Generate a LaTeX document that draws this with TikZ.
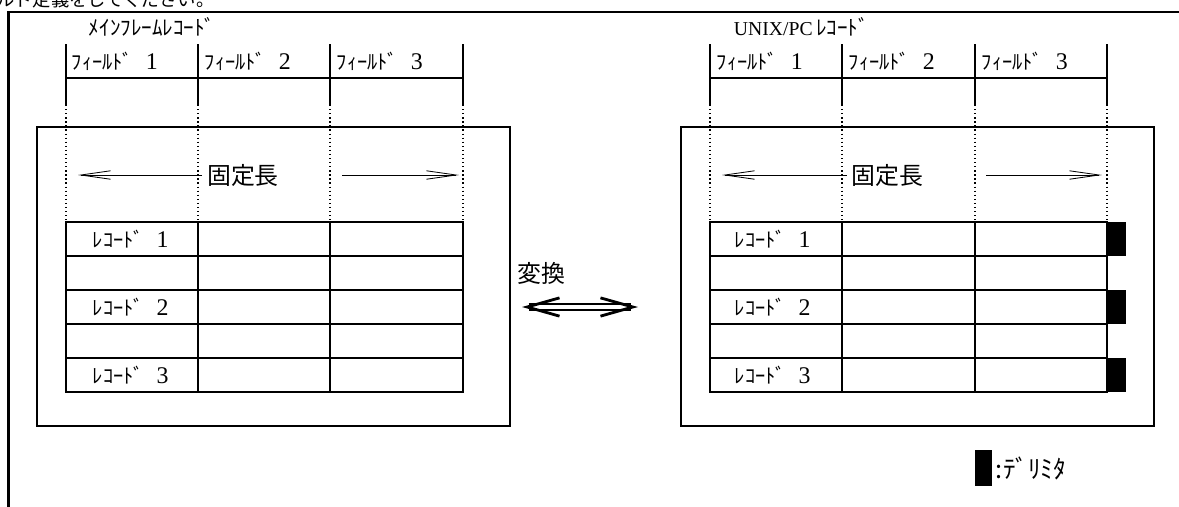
\documentclass[tikz,border=0pt]{standalone}
\usepackage{fontspec}
\setmainfont{Liberation Serif}
\newfontfamily\jp{Noto Sans CJK JP}
\usetikzlibrary{arrows.meta}

\tikzset{
  cell/.style={line width=1.5pt},
  guide/.style={line width=0.9pt, dotted},
  label/.style={anchor=west},
  bigtext/.style={font=\jp\fontsize{17}{20}\selectfont},
  lenarrow/.style={line width=0.6pt, -{Straight Barb[length=21pt,width=6pt]}},
  convarrow/.style={double, double distance=3.2pt, line width=0.9pt,
    {Straight Barb[length=23pt,width=13pt,line width=2pt]}-{Straight Barb[length=23pt,width=13pt,line width=2pt]}}
}

\begin{document}
\begin{tikzpicture}[x=0.025cm, y=-0.025cm]
% Kana label followed by a number
\def\kana#1#2{{\jp\fontsize{14.5}{16}\selectfont #1}\hspace{9pt}{\fontsize{17}{18}\selectfont #2}}

\useasboundingbox (0,0) rectangle (1179,507);
\clip (0,0) rectangle (1179,507);

% Text cut at the top edge
\node[anchor=base west, inner sep=0pt, font=\jp\fontsize{13}{15}\selectfont] (note) at (-4,6.5) {ルド定義をしてください。};

% Outer frame
\draw[cell] (1179,12) -- (8.5,12) -- (8.5,507);

% Mainframe record
\node[label, font=\jp\fontsize{15}{17}\selectfont] (mftitle) at (84,27) {ﾒｲﾝﾌﾚｰﾑﾚｺｰﾄﾞ};
\draw[cell] (66,44) -- (66,105);
\draw[cell] (198,44) -- (198,105);
\draw[cell] (330,44) -- (330,105);
\draw[cell] (463,44) -- (463,105);
\draw[cell] (66,78) -- (463,78);
\node[label] (mfhead1) at (67,61) {\kana{ﾌｨｰﾙﾄﾞ}{1}};
\node[label] (mfhead2) at (200,61) {\kana{ﾌｨｰﾙﾄﾞ}{2}};
\node[label] (mfhead3) at (332,61) {\kana{ﾌｨｰﾙﾄﾞ}{3}};
\draw[guide] (66,105) -- (66,222);
\draw[guide] (198,105) -- (198,222);
\draw[guide] (330,105) -- (330,222);
\draw[guide] (463,105) -- (463,222);
\draw[cell] (37,127) rectangle (510,426);

% Fixed length
\node[bigtext] (mffix) at (243,175) {固定長};
\coordinate (mfleft) at (78,175);
\coordinate (mfstart) at (342,175);
\coordinate (mfright) at (459,175);
\draw[lenarrow] (mffix.west) -- (mfleft);
\draw[lenarrow] (mfstart) -- (mfright);

% Records
\draw[cell] (66,222) rectangle (463,392);
\draw[cell] (66,256) -- (463,256);
\draw[cell] (66,290) -- (463,290);
\draw[cell] (66,324) -- (463,324);
\draw[cell] (66,358) -- (463,358);
\draw[cell] (198,222) -- (198,392);
\draw[cell] (330,222) -- (330,392);
\node[label] (mfrec1) at (88,239) {\kana{ﾚｺｰﾄﾞ}{1}};
\node[label] (mfrec2) at (88,307) {\kana{ﾚｺｰﾄﾞ}{2}};
\node[label] (mfrec3) at (88,375) {\kana{ﾚｺｰﾄﾞ}{3}};

% Conversion
\node[bigtext] (conv) at (541,273) {変換};
\coordinate (convleft) at (522,307);
\coordinate (convright) at (638,307);
\draw[convarrow] (convleft) -- (convright);

% UNIX/PC record
\node[label] (pctitle) at (729,27) {{\fontsize{14}{16}\selectfont UNIX/PC} {\jp\fontsize{15}{17}\selectfont ﾚｺｰﾄﾞ}};
\draw[cell] (710,44) -- (710,105);
\draw[cell] (842,44) -- (842,105);
\draw[cell] (975,44) -- (975,105);
\draw[cell] (1107,44) -- (1107,105);
\draw[cell] (710,78) -- (1107,78);
\node[label] (pchead1) at (712,61) {\kana{ﾌｨｰﾙﾄﾞ}{1}};
\node[label] (pchead2) at (844,61) {\kana{ﾌｨｰﾙﾄﾞ}{2}};
\node[label] (pchead3) at (977,61) {\kana{ﾌｨｰﾙﾄﾞ}{3}};
\draw[guide] (710,105) -- (710,222);
\draw[guide] (842,105) -- (842,222);
\draw[guide] (975,105) -- (975,222);
\draw[guide] (1107,105) -- (1107,222);
\draw[cell] (681,127) rectangle (1154,426);

% Fixed length
\node[bigtext] (pcfix) at (887.5,175) {固定長};
\coordinate (pcleft) at (722,175);
\coordinate (pcstart) at (986,175);
\coordinate (pcright) at (1102,175);
\draw[lenarrow] (pcfix.west) -- (pcleft);
\draw[lenarrow] (pcstart) -- (pcright);

% Records with delimiters
\draw[cell] (710,222) rectangle (1107,392);
\draw[cell] (710,256) -- (1107,256);
\draw[cell] (710,290) -- (1107,290);
\draw[cell] (710,324) -- (1107,324);
\draw[cell] (710,358) -- (1107,358);
\draw[cell] (842,222) -- (842,392);
\draw[cell] (975,222) -- (975,392);
\fill (1107,222) rectangle (1126,256);
\fill (1107,290) rectangle (1126,324);
\fill (1107,358) rectangle (1126,392);
\node[label] (pcrec1) at (730,239) {\kana{ﾚｺｰﾄﾞ}{1}};
\node[label] (pcrec2) at (730,307) {\kana{ﾚｺｰﾄﾞ}{2}};
\node[label] (pcrec3) at (730,375) {\kana{ﾚｺｰﾄﾞ}{3}};

% Legend
\fill (974.5,450) rectangle (992,486);
\node[label, font=\jp\fontsize{18}{20}\selectfont] (delim) at (991,468) {:ﾃﾞﾘﾐﾀ};
\end{tikzpicture}
\end{document}
